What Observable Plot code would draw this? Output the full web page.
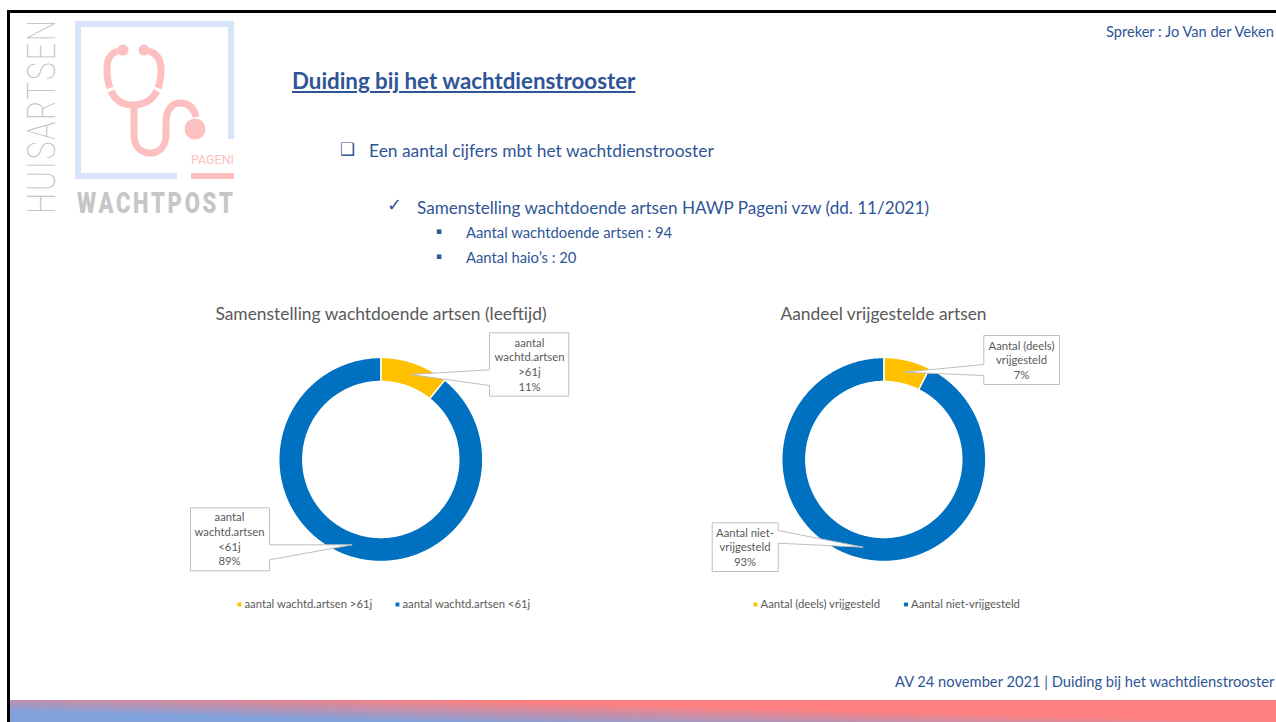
<!DOCTYPE html>
<html><head><meta charset="utf-8">
<script src="https://cdn.jsdelivr.net/npm/d3@7"></script>
<script src="https://cdn.jsdelivr.net/npm/@observablehq/plot@0.6"></script>
<style>
html,body{margin:0;padding:0;background:#fff;overflow:hidden}
#slide{position:relative;width:1276px;height:722px;overflow:hidden;font-family:Lato,sans-serif;color:#2F5597}
.t{position:absolute;white-space:nowrap;line-height:1}
.chart{position:absolute;top:300px}
.chart svg{display:block;overflow:visible}
</style></head><body>
<div id="slide">
<div style="position:absolute;left:9px;top:700px;width:1267px;height:22px;background:linear-gradient(181.5deg,#ff8080 39%,#80a2dc 81%)"></div>
<div style="position:absolute;left:7px;top:10px;width:1269px;height:2.5px;background:#000"></div>
<div style="position:absolute;left:6.5px;top:10px;width:3px;height:712px;background:#000"></div>
<svg style="position:absolute;left:0;top:0;overflow:visible" width="300" height="230">
  <g fill="none" stroke="#d6e6f8" stroke-width="6">
    <path d="M177 176H78V24H231V139"/>
  </g>
  <rect x="191" y="173" width="43" height="6" fill="#fdc0c0"/>
  <g fill="none" stroke="#fdc0c0" stroke-width="7">
    <path d="M118 51C108 54 107 62 107 70C107 78 108 83 110 88"/>
    <path d="M149 51C159 54 161 62 161 70C161 78 160 83 158 88"/>
    <path d="M111 91C115 100 122 105 133 105C145 105 152 100 157 91"/>
    <path d="M134 105V134C134 147 141 153 150 153C159 153 166 147 166 134V122C166 110 172 103 180 103C189 103 194 108 196 117"/>
  </g>
  <circle cx="123" cy="50" r="5.5" fill="#fdc0c0"/><circle cx="144" cy="50" r="5.5" fill="#fdc0c0"/>
  <circle cx="195" cy="129" r="10.5" fill="#fdc0c0"/>
  <text x="191" y="164" textLength="43" lengthAdjust="spacingAndGlyphs" font-family="Roboto" font-weight="400" font-size="12.6" fill="#fdc0c0">PAGENI</text>
  <text transform="translate(77,213) scale(1,1.33)" textLength="156" lengthAdjust="spacing" font-family="Roboto" font-weight="900" font-size="22" fill="#c6c6c6">WACHTPOST</text>
  <text transform="translate(55,214) rotate(-90) scale(1,1.27)" textLength="194" lengthAdjust="spacing" font-family="Roboto" font-weight="100" font-size="30" fill="#bdbdbd">HUISARTSEN</text>
</svg>
<div class="t" style="left:1106px;top:25px;font-size:14.6px">Spreker : Jo Van der Veken</div>
<div class="t" style="left:292px;top:70px;font-size:22.3px;font-weight:700;text-decoration:underline">Duiding bij het wachtdienstrooster</div>
<div class="t" style="left:340px;top:141px;font-size:17px;font-family:'DejaVu Sans'">❑</div>
<div class="t" style="left:369px;top:142px;font-size:17.4px">Een aantal cijfers mbt het wachtdienstrooster</div>
<div class="t" style="left:387px;top:196px;font-size:18px;font-family:'DejaVu Sans'">✓</div>
<div class="t" style="left:417px;top:199px;font-size:17.1px">Samenstelling wachtdoende artsen HAWP Pageni vzw (dd. 11/2021)</div>
<div class="t" style="left:436px;top:227px;font-size:9px;font-family:'DejaVu Sans'">▪</div>
<div class="t" style="left:466px;top:225px;font-size:14.8px">Aantal wachtdoende artsen : 94</div>
<div class="t" style="left:436px;top:252px;font-size:9px;font-family:'DejaVu Sans'">▪</div>
<div class="t" style="left:466px;top:250px;font-size:14.8px">Aantal haio’s : 20</div>
<div class="t" style="left:895px;top:674px;font-size:14.7px">AV 24 november 2021 | Duiding bij het wachtdienstrooster</div>
<div id="c1" class="chart" style="left:180px"></div>
<div id="c2" class="chart" style="left:700px"></div>
</div>
<script>
// Data
const leftTitle = "Samenstelling wachtdoende artsen (leeftijd)";
const leftCategories = ["aantal wachtd.artsen >61j", "aantal wachtd.artsen <61j"];
const leftValues = [10.8, 89.2];
const rightTitle = "Aandeel vrijgestelde artsen";
const rightCategories = ["Aantal (deels) vrijgesteld", "Aantal niet-vrijgesteld"];
const rightValues = [7.4, 92.6];
const colors = ["#FFC000", "#0070C0"];

const R0 = 78, R1 = 102;
function ring(cats, vals, cx, cy) {
  const total = d3.sum(vals), rows = [];
  let start = 0;
  cats.forEach((cat, i) => {
    const end = start + vals[i] / total * 2 * Math.PI;
    const n = Math.ceil((end - start) / 0.01);
    const a = d3.range(n + 1).map(k => start + (end - start) * k / n);
    for (const t of a) rows.push({cat, x: cx + R1 * Math.sin(t), y: cy - R1 * Math.cos(t)});
    for (const t of a.reverse()) rows.push({cat, x: cx + R0 * Math.sin(t), y: cy - R0 * Math.cos(t)});
    start = end;
  });
  return rows;
}
function shape(points) { return points.map(([x, y]) => ({x, y})); }

function chart(o) {
  const W = 400, H = 320;
  const ringRows = ring(o.cats, o.vals, o.cx, o.cy);
  const calloutMarks = o.callouts.flatMap(c => [
    Plot.line(shape(c.path), {x: "x", y: "y", fill: "white", stroke: "#bfbfbf", strokeWidth: 1, curve: "linear-closed", strokeLinecap: "butt", strokeLinejoin: "miter"}),
    Plot.text(c.lines, {x: () => c.tx, y: (d, i) => c.ty + i * 14.7, text: d => d, fill: "#595959", fontSize: 11.3, fontFamily: "Lato", textAnchor: "middle", lineAnchor: "middle"})
  ]);
  const legendMarks = o.cats.flatMap((cat, i) => [
    Plot.dot([cat], {x: () => o.legend[i], y: () => 604, symbol: "square", r: 2.2, fill: () => cat, stroke: "none"}),
    Plot.text([cat], {x: () => o.legend[i] + 5, y: () => 604, text: d => d, fill: "#595959", fontSize: 11.3, fontFamily: "Lato", textAnchor: "start", lineAnchor: "middle"})
  ]);
  return Plot.plot({
    width: W, height: H, margin: 0,
    x: {domain: [o.left, o.left + W], range: [0, W], axis: null},
    y: {domain: [300, 300 + H], range: [0, H], axis: null},
    color: {domain: o.cats, range: colors},
    style: {background: "transparent", overflow: "visible"},
    marks: [
      Plot.line(ringRows, {x: "x", y: "y", z: "cat", fill: "cat", stroke: "white", strokeWidth: 1.4, curve: "linear-closed"}),
      ...calloutMarks,
      Plot.text([o.title], {x: () => o.titleX, y: () => 313.5, text: d => d, fill: "#595959", fontSize: 17.4, fontFamily: "Lato", textAnchor: "middle", lineAnchor: "middle"}),
      ...legendMarks
    ]
  });
}

document.getElementById("c1").append(chart({
  left: 180, cats: leftCategories, vals: leftValues, cx: 380.3, cy: 459,
  title: leftTitle, titleX: 380.5, legend: [239, 397],
  callouts: [
    {path: [[489,332.3],[568.3,332.3],[568.3,395.7],[489,395.7],[489,385],[410,374],[489,369.3]],
     lines: ["aantal","wachtd.artsen",">61j","11%"], tx: 529, ty: 342.5},
    {path: [[190,507.3],[269,507.3],[269,544.3],[351.7,544.3],[269,559.3],[269,570.3],[190,570.3]],
     lines: ["aantal","wachtd.artsen","<61j","89%"], tx: 229, ty: 517}
  ]
}));
document.getElementById("c2").append(chart({
  left: 700, cats: rightCategories, vals: rightValues, cx: 883.3, cy: 459,
  title: rightTitle, titleX: 883, legend: [755, 905.5],
  callouts: [
    {path: [[983.3,335],[1059,335],[1059,384],[983.3,384],[983.3,375],[904,371.7],[983.3,364]],
     lines: ["Aantal (deels)","vrijgesteld","7%"], tx: 1021, ty: 345.5},
    {path: [[711.7,522.3],[777.7,522.3],[777.7,530],[862.7,546.7],[777.7,542.7],[777.7,571],[711.7,571]],
     lines: ["Aantal niet-","vrijgesteld","93%"], tx: 744.5, ty: 532.5}
  ]
}));
</script>
</body></html>
